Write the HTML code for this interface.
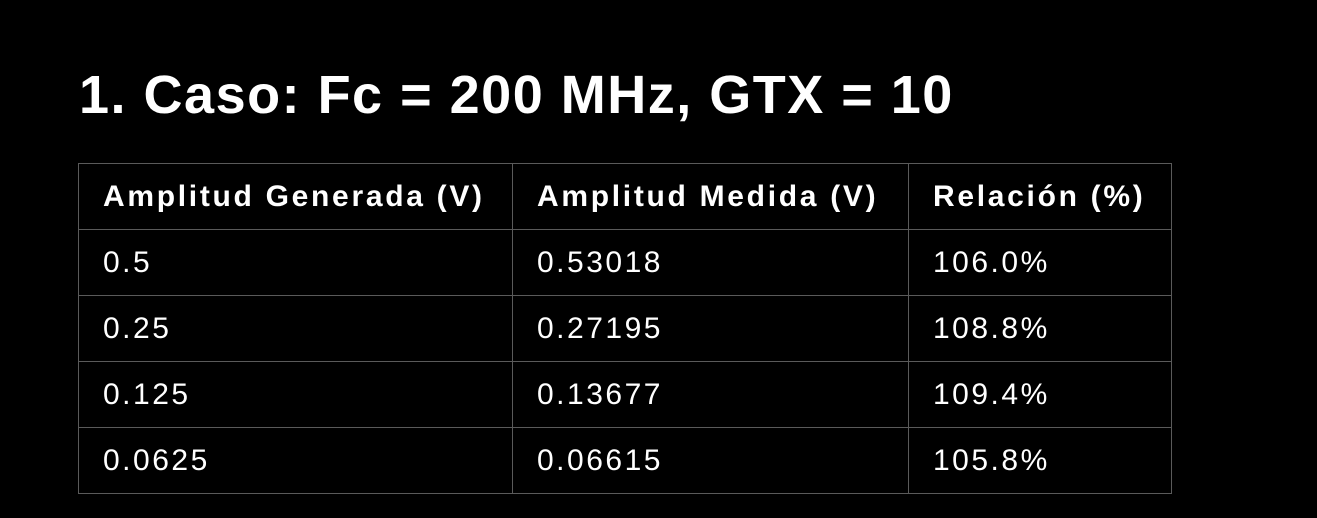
<!DOCTYPE html>
<html>
<head>
<meta charset="utf-8">
<style>
  html, body { margin:0; padding:0; background:#000; width:1317px; height:518px; overflow:hidden; }
  body { font-family: "Liberation Sans", "DejaVu Sans", sans-serif; color:#fff; position:relative; }
  h1 { position:absolute; left:79px; top:62px; margin:0; font-size:54px; font-weight:bold; letter-spacing:1.5px; line-height:66px; }
  table { position:absolute; left:78px; top:163px; border-collapse:collapse; }
  td, th { border:1px solid #5a5a5a; height:66px; padding:0 0 0 24px; text-align:left; font-size:30px; letter-spacing:2.5px; box-sizing:border-box; }
  th { font-weight:bold; letter-spacing:2.7px; }
  td { font-weight:normal; }
  .c1 { width:434px; } .c2 { width:396px; } .c3 { width:263px; }
</style>
</head>
<body>
<h1>1. Caso: Fc = 200 MHz, GTX = 10</h1>
<table>
  <tr>
    <th class="c1">Amplitud Generada (V)</th>
    <th class="c2">Amplitud Medida (V)</th>
    <th class="c3">Relación (%)</th>
  </tr>
  <tr>
    <td>0.5</td>
    <td>0.53018</td>
    <td>106.0%</td>
  </tr>
  <tr>
    <td>0.25</td>
    <td>0.27195</td>
    <td>108.8%</td>
  </tr>
  <tr>
    <td>0.125</td>
    <td>0.13677</td>
    <td>109.4%</td>
  </tr>
  <tr>
    <td>0.0625</td>
    <td>0.06615</td>
    <td>105.8%</td>
  </tr>
</table>
</body>
</html>
